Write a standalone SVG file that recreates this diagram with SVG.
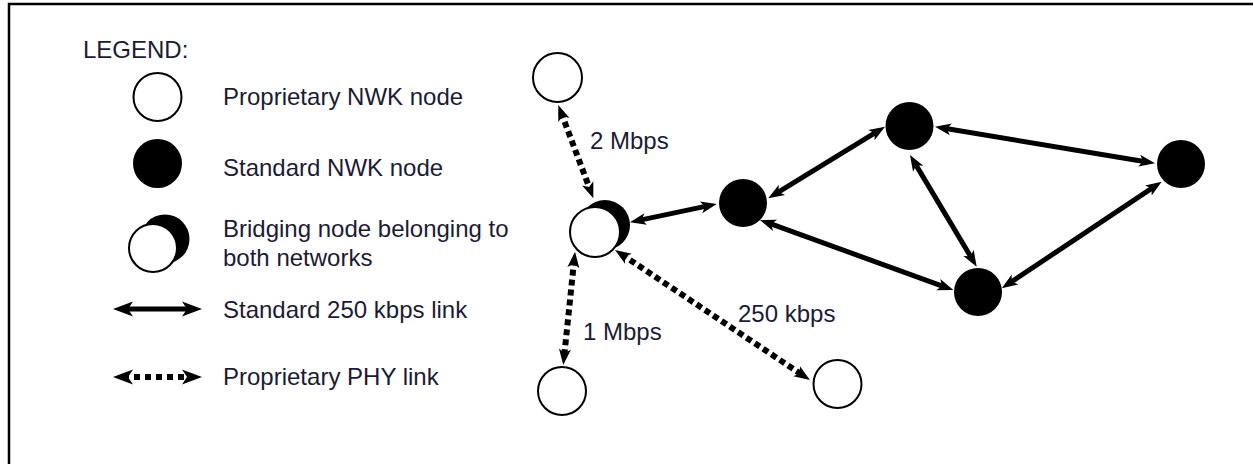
<svg xmlns="http://www.w3.org/2000/svg" width="1253" height="464" viewBox="0 0 1253 464">
<style>
text{font-family:"Liberation Sans",Arial,sans-serif;font-size:24px;fill:#1b1b35}
.open{fill:#fff;stroke:#000;stroke-width:2}
.std{fill:#000}
.solid{stroke:#000;stroke-width:5;fill:none;marker-start:url(#head);marker-end:url(#head)}
.dash{stroke:#000;stroke-width:6;fill:none;stroke-dasharray:6 4;marker-start:url(#head);marker-end:url(#head)}
.lsolid{stroke:#000;stroke-width:5;fill:none;marker-start:url(#headL);marker-end:url(#headL)}
.ldash{stroke:#000;stroke-width:6;fill:none;stroke-dasharray:6 5;marker-start:url(#headL);marker-end:url(#headL)}
</style>
<defs>
<marker id="head" markerUnits="userSpaceOnUse" markerWidth="16" markerHeight="12" refX="8" refY="6" orient="auto-start-reverse" overflow="visible">
<path d="M0,0 L16,6 L0,12 L4,6 Z" fill="#000"/>
</marker>
<marker id="headL" markerUnits="userSpaceOnUse" markerWidth="20" markerHeight="15" refX="10" refY="7.5" orient="auto-start-reverse" overflow="visible">
<path d="M0,0 L20,7.5 L0,15 L5,7.5 Z" fill="#000"/>
</marker>
</defs>
<rect x="0" y="0" width="1253" height="464" fill="#fff"/>
<path d="M9,464 V4 H1253" fill="none" stroke="#000" stroke-width="2.5"/>

<g id="legend">
<text x="83" y="58">LEGEND:</text>
<circle class="open" cx="157.5" cy="97" r="24"/>
<text x="223" y="105">Proprietary NWK node</text>
<circle class="std" cx="157.5" cy="163.5" r="24.5"/>
<text x="223" y="176">Standard NWK node</text>
<circle class="std" cx="165" cy="239" r="24.5"/>
<circle class="open" cx="153" cy="248" r="24"/>
<text x="223" y="237">Bridging node belonging to</text>
<text x="223" y="266">both networks</text>
<line class="lsolid" x1="123" y1="309" x2="192" y2="309"/>
<text x="223" y="318">Standard 250 kbps link</text>
<line class="ldash" x1="123" y1="377" x2="192" y2="377"/>
<text x="223" y="385">Proprietary PHY link</text>
</g>

<g id="connectors">
<line class="solid" x1="637.8" y1="220.65" x2="708.9" y2="205.65"/>
<line class="solid" x1="775.1" y1="194.1" x2="878.2" y2="130.9"/>
<line class="solid" x1="942.9" y1="128.0" x2="1147.1" y2="162.0"/>
<line class="solid" x1="914.1" y1="161.9" x2="972.6" y2="259.8"/>
<line class="solid" x1="767.5" y1="222.7" x2="945.8" y2="287.3"/>
<line class="solid" x1="1155.0" y1="186.1" x2="1008.4" y2="283.9"/>
<line class="dash" x1="561.1" y1="112.5" x2="590.5" y2="190.8"/>
<line class="dash" x1="574.2" y1="259.7" x2="564.1" y2="357.0"/>
<line class="dash" x1="621.7" y1="254.4" x2="803.3" y2="375.6"/>
</g>

<g id="p1"><circle class="open" cx="557.5" cy="77.5" r="24.5"/></g>
<g id="bridge"><circle class="std" cx="605" cy="225" r="25"/><circle class="open" cx="595" cy="232" r="25"/></g>
<g id="s1"><circle class="std" cx="743" cy="203" r="24"/></g>
<g id="s2"><circle class="std" cx="909.5" cy="126" r="24"/></g>
<g id="s3"><circle class="std" cx="1181" cy="164" r="24"/></g>
<g id="s4"><circle class="std" cx="978" cy="292" r="24"/></g>
<g id="p2"><circle class="open" cx="562" cy="391" r="24"/></g>
<g id="p3"><circle class="open" cx="837.5" cy="384" r="24"/></g>

<g id="labels">
<text x="590" y="149">2 Mbps</text>
<text x="583" y="340">1 Mbps</text>
<text x="738" y="322">250 kbps</text>
</g>
</svg>
